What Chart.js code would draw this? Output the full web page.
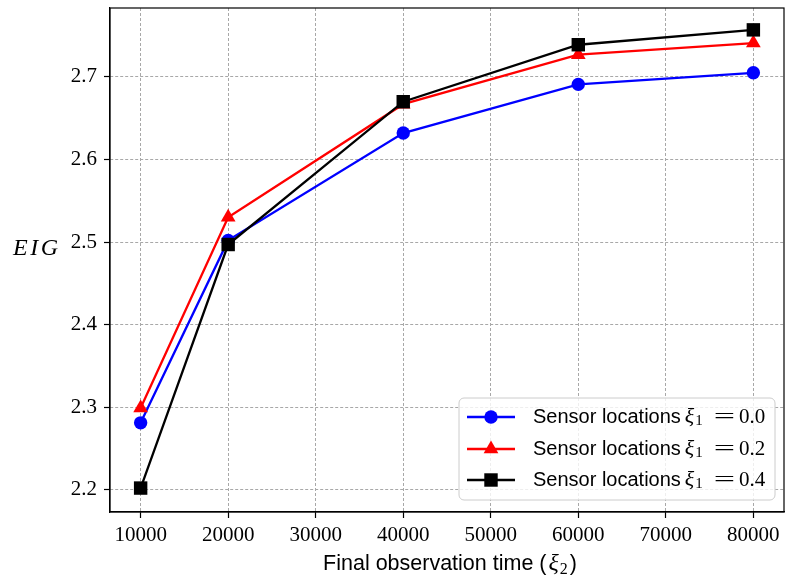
<!DOCTYPE html>
<html>
<head>
<meta charset="utf-8">
<script src="https://cdn.jsdelivr.net/npm/chart.js@4.4.1/dist/chart.umd.min.js"></script>
<style>
  body { margin: 0; background: #fff; }
  canvas { display: block; }
</style>
</head>
<body>
<canvas id="eigChart" width="786" height="579"></canvas>
<script>
// observation times and EIG values per sensor placement
const times = [10000, 20000, 40000, 60000, 80000];
const eigXi00 = [2.281, 2.502, 2.632, 2.691, 2.705];
const eigXi02 = [2.299, 2.530, 2.667, 2.727, 2.741];
const eigXi04 = [2.202, 2.497, 2.670, 2.739, 2.757];
const xiValues = ["0.0", "0.2", "0.4"];
const xTicks = [10000, 20000, 30000, 40000, 50000, 60000, 70000, 80000];
const yTicks = [2.2, 2.3, 2.4, 2.5, 2.6, 2.7];

const serif = "'Liberation Serif', serif";
const sans = "'Liberation Sans', sans-serif";

function series(values, colour, style, radius, order) {
	return {
		data: times.map((t, i) => ({ x: t, y: values[i] })),
		borderColor: colour,
		backgroundColor: colour,
		borderWidth: 2.3,
		pointStyle: style,
		pointRadius: radius,
		pointBorderWidth: 0,
		pointBackgroundColor: colour,
		tension: 0,
		order: order,
	};
}

const datasets = [
	series(eigXi00, "#0000ff", "circle", 6.7, 2),
	series(eigXi02, "#ff0000", "triangle", 8.5, 1),
	series(eigXi04, "#000000", "rect", 9.5, 0),
];

// draws a run of text pieces (sans words, italic symbols, subscripts)
function mathText(ctx, x, y, parts, measureOnly) {
	let cx = x;
	parts.forEach((p) => {
		cx += p.gap || 0;
		ctx.font = p.font;
		const sx = p.sx || 1;
		const w = ctx.measureText(p.text).width * sx;
		if (!measureOnly) {
			ctx.save();
			ctx.translate(cx, y + (p.dy || 0));
			ctx.scale(sx, 1);
			ctx.fillText(p.text, 0, 0);
			ctx.restore();
		}
		cx += w;
	});
	return cx - x;
}

function legendParts(v) {
	return [
		{ text: "Sensor locations", font: "20px " + sans },
		{ text: "ξ", font: "italic 22px " + serif, gap: 4 },
		{ text: "1", font: "15px " + serif, dy: 4, gap: 1 },
		{ text: "=", font: "21px " + serif, sx: 1.8, gap: 11 },
		{ text: v, font: "21px " + serif, gap: 4 },
	];
}

const framePlugin = {
	id: "frame",
	afterDraw(chart) {
		const { ctx, chartArea: a } = chart;
		ctx.save();
		ctx.strokeStyle = "#000";
		ctx.lineWidth = 1.2;
		ctx.strokeRect(a.left, a.top, a.right - a.left, a.bottom - a.top);

		// y axis title
		ctx.fillStyle = "#000";
		ctx.textBaseline = "alphabetic";
		ctx.textAlign = "left";
		ctx.font = "italic 24px " + serif;
		ctx.letterSpacing = "2.5px";
		ctx.fillText("EIG", 13, 255);
		ctx.letterSpacing = "0px";

		// x axis title
		const xt = [
			{ text: "Final observation time (", font: "21.5px " + sans },
			{ text: "ξ", font: "italic 24px " + serif, gap: 2 },
			{ text: "2", font: "16px " + serif, dy: 4, gap: 1 },
			{ text: ")", font: "21.5px " + sans, gap: 2 },
		];
		const w = mathText(ctx, 0, 0, xt, true);
		mathText(ctx, (a.left + a.right) / 2 - w / 2 + 3, 570, xt, false);

		// legend box
		const bx = 459, by = 398, bw = 316, bh = 102, r = 5;
		ctx.beginPath();
		ctx.roundRect(bx, by, bw, bh, r);
		ctx.fillStyle = "rgba(255,255,255,0.8)";
		ctx.fill();
		ctx.strokeStyle = "#cccccc";
		ctx.lineWidth = 1;
		ctx.stroke();

		const rows = [417, 449, 480];
		datasets.forEach((ds, i) => {
			const y = rows[i];
			ctx.strokeStyle = ds.borderColor;
			ctx.lineWidth = ds.borderWidth;
			ctx.beginPath();
			ctx.moveTo(467, y);
			ctx.lineTo(515, y);
			ctx.stroke();
			ctx.fillStyle = ds.borderColor;
			Chart.helpers.drawPoint(ctx, {
				pointStyle: ds.pointStyle,
				radius: ds.pointRadius,
				borderWidth: 0,
				rotation: 0,
			}, 491, y);
			ctx.fillStyle = "#000";
			ctx.textBaseline = "middle";
			mathText(ctx, 533, y, legendParts(xiValues[i]), false);
		});
		ctx.restore();
	},
};

function fixBox(size) {
	return (s) => {
		if (s.isHorizontal()) s.height = size; else s.width = size;
		s.paddingLeft = 0;
		s.paddingRight = 0;
		s.paddingTop = 0;
		s.paddingBottom = 0;
	};
}

const gridOpts = {
	color: "#a8a8a8",
	lineWidth: 1,
	tickLength: 6,
	tickColor: "#000",
	tickWidth: 1.2,
	tickBorderDash: [],
};

new Chart(document.getElementById("eigChart"), {
	type: "line",
	data: { datasets },
	plugins: [framePlugin],
	options: {
		responsive: false,
		devicePixelRatio: 1,
		animation: false,
		layout: { autoPadding: false, padding: { left: 0, top: 8, right: 2, bottom: 0 } },
		plugins: { legend: { display: false }, tooltip: { enabled: false } },
		scales: {
			x: {
				type: "linear",
				min: 6500,
				max: 83500,
				afterBuildTicks: (s) => { s.ticks = xTicks.map((v) => ({ value: v })); },
				afterFit: fixBox(67),
				ticks: {
					color: "#000",
					font: { family: serif, size: 21 },
					padding: 5,
					maxRotation: 0,
					callback: (v) => String(v),
				},
				grid: gridOpts,
				border: { display: true, color: "#000", width: 1.2, dash: [3, 2] },
			},
			y: {
				min: 2.173,
				max: 2.7835,
				afterBuildTicks: (s) => { s.ticks = yTicks.map((v) => ({ value: v })); },
				afterFit: fixBox(110),
				ticks: {
					color: "#000",
					font: { family: serif, size: 21 },
					padding: 7,
					callback: (v) => v.toFixed(1),
				},
				grid: gridOpts,
				border: { display: true, color: "#000", width: 1.2, dash: [3, 2] },
			},
		},
	},
});
</script>
</body>
</html>
